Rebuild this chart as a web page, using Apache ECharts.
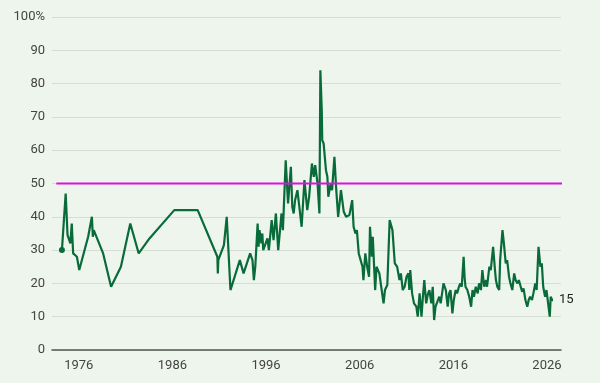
<!DOCTYPE html>
<html>
<head>
<meta charset="utf-8">
<script src="https://cdn.jsdelivr.net/npm/echarts@6/dist/echarts.min.js"></script>
<style>
  html, body { margin: 0; padding: 0; background: #eef5ec; }
  #chart { width: 600px; height: 383px; }
</style>
</head>
<body>
<div id="chart"></div>
<script>
// 年份（小数表示月份位置）
const years = [
  1974.2, 1974.6, 1974.8, 1975.1, 1975.25, 1975.4, 1975.8, 1976.05, 1977.0, 1977.4,
  1977.5, 1977.6, 1978.6, 1979.45, 1980.5, 1981.5, 1982.4, 1983.55, 1986.2, 1988.7,
  1990.8, 1990.85, 1990.9, 1991.5, 1991.8, 1992.2, 1993.2, 1993.6, 1994.3, 1994.55,
  1994.7, 1994.85, 1995.1, 1995.2, 1995.3, 1995.5, 1995.6, 1995.7, 1996.15, 1996.3,
  1996.6, 1996.8, 1997.05, 1997.3, 1997.65, 1997.8, 1998.1, 1998.35, 1998.65, 1998.8,
  1998.95, 1999.1, 1999.35, 1999.8, 2000.1, 2000.4, 2000.6, 2000.9, 2001.1, 2001.25,
  2001.5, 2001.7, 2001.8, 2001.95, 2002.0, 2002.15, 2002.4, 2002.55, 2002.65, 2002.9,
  2003.05, 2003.3, 2003.5, 2003.7, 2004.0, 2004.3, 2004.55, 2004.9, 2005.2, 2005.35,
  2005.55, 2005.7, 2005.9, 2006.1, 2006.3, 2006.4, 2006.6, 2006.8, 2007.0, 2007.1,
  2007.3, 2007.4, 2007.65, 2007.8, 2008.1, 2008.3, 2008.55, 2008.7, 2008.95, 2009.2,
  2009.5, 2009.75, 2010.0, 2010.25, 2010.4, 2010.6, 2010.8, 2011.0, 2011.2, 2011.3,
  2011.4, 2011.6, 2011.8, 2012.05, 2012.2, 2012.4, 2012.6, 2012.75, 2012.9, 2013.1,
  2013.3, 2013.45, 2013.65, 2013.8, 2013.95, 2014.1, 2014.5, 2014.65, 2014.95, 2015.2,
  2015.4, 2015.55, 2015.7, 2015.9, 2016.05, 2016.25, 2016.4, 2016.6, 2016.75, 2016.9,
  2017.1, 2017.2, 2017.3, 2017.5, 2017.7, 2017.9, 2018.05, 2018.2, 2018.4, 2018.6,
  2018.75, 2018.95, 2019.1, 2019.3, 2019.5, 2019.6, 2019.85, 2020.0, 2020.25, 2020.45,
  2020.55, 2020.7, 2020.9, 2021.0, 2021.25, 2021.4, 2021.6, 2021.75, 2021.95, 2022.1,
  2022.3, 2022.5, 2022.65, 2022.85, 2023.0, 2023.2, 2023.35, 2023.5, 2023.7, 2023.9,
  2024.05, 2024.2, 2024.4, 2024.55, 2024.75, 2024.9, 2025.1, 2025.3, 2025.45, 2025.6,
  2025.8, 2025.95, 2026.3, 2026.4, 2026.55, 2026.65
]
// 支持率 %
const approval = [
  30, 47, 34.5, 32, 38, 29, 28, 24, 34, 40,
  34, 36, 29, 19, 25, 38, 29, 33.5, 42, 42,
  28, 23, 27, 31.5, 40, 18, 27, 23, 29, 27,
  21, 25, 38, 31, 36, 32, 35, 30, 33.5, 30,
  39, 33, 41, 30, 41, 36, 57, 44, 55, 43,
  41, 45, 48, 37, 51, 42, 46, 56, 52, 55.5,
  50, 41, 84, 72, 63, 62, 54, 52, 46, 50,
  48, 58, 48, 40, 48, 41.5, 40, 40.5, 45, 37,
  35, 36, 29, 27, 25, 21, 29, 25, 22, 37,
  28, 34, 18, 25, 23, 19, 14, 18, 19.5, 39,
  36, 26, 25, 21, 23, 18, 19, 22, 23, 18,
  24, 17, 14, 13, 10, 17, 10, 16, 21, 14,
  17, 18, 14, 19, 9, 13, 16, 14, 20, 18,
  13, 17, 18, 11, 15, 18, 17, 19, 20, 19,
  28, 22, 19, 18, 16, 13, 18, 16, 19, 17,
  20, 18, 24, 19, 21, 19, 25, 24, 31, 24,
  21, 19, 18, 27, 36, 32, 26, 27, 22, 20,
  18, 23, 21, 20, 21, 19, 17.5, 18.5, 15, 13,
  15, 16, 15, 17, 20, 18, 31, 25, 26, 19,
  16, 18, 10, 16, 15, 15
]
const xLabels = [1976, 1986, 1996, 2006, 2016, 2026]
const refLevel = 50
const refSpan = [1973.6, 2028.2]

const chart = echarts.init(document.getElementById('chart'))
const lineData = years.map((y, i) => [y, approval[i]])

const options = {
  backgroundColor: '#eef5ec',
  animation: false,
  textStyle: { fontFamily: 'Roboto' },
  grid: {
    left: 52,
    right: 39,
    top: 17,
    bottom: 33,
    containLabel: false,
  },
  xAxis: {
    type: 'value',
    min: 1973.14,
    max: 2027.5,
    splitLine: { show: false },
    axisTick: { show: false },
    axisLine: {
      lineStyle: { color: '#555555', width: 1.5 },
    },
    axisLabel: {
      customValues: xLabels,
      color: '#444444',
      fontSize: 13,
      margin: 9,
      formatter: (v) => String(v),
    },
  },
  yAxis: {
    type: 'value',
    min: 0,
    max: 100,
    interval: 10,
    axisLine: { show: false },
    axisTick: { show: false },
    splitLine: {
      lineStyle: { color: '#d5ddd4', width: 1 },
    },
    axisLabel: {
      color: '#444444',
      fontSize: 13,
      margin: 7,
      formatter: (v) => (v === 100 ? '100%' : String(v)),
    },
  },
  series: [
    {
      type: 'line',
      data: [[refSpan[0], refLevel], [refSpan[1], refLevel]],
      showSymbol: false,
      clip: false,
      lineStyle: { color: '#dd11dd', width: 2 },
      z: 3,
    },
    {
      type: 'line',
      data: lineData,
      showSymbol: false,
      lineStyle: { color: '#0a6b3a', width: 2.2 },
      z: 2,
      endLabel: {
        show: true,
        formatter: () => String(approval[approval.length - 1]),
        color: '#222222',
        fontSize: 13,
        distance: 6,
      },
    },
    {
      // 起点圆点
      type: 'scatter',
      data: [lineData[0]],
      symbolSize: 6,
      itemStyle: { color: '#0a6b3a', opacity: 1 },
      z: 4,
    },
  ],
}
chart.setOption(options, true)
</script>
</body>
</html>
